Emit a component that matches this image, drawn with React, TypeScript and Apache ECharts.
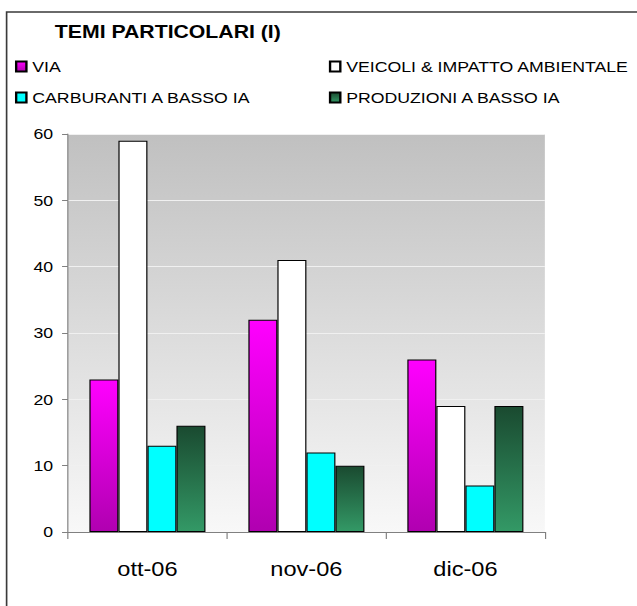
import React, { useEffect, useRef } from "react";
import * as echarts from "echarts";

const categories = ["ott-06", "nov-06", "dic-06"];
const seriesNames = [
  "VIA",
  "VEICOLI & IMPATTO AMBIENTALE",
  "CARBURANTI A BASSO IA",
  "PRODUZIONI A BASSO IA",
];
const viaValues = [23, 32, 26];
const veicoliValues = [59, 41, 19];
const carburantiValues = [13, 12, 7];
const produzioniValues = [16, 10, 19];
const yMin = 0;
const yMax = 60;
const yInterval = 10;
const titleText = "TEMI PARTICOLARI (I)";

// The reference is horizontally stretched; draw narrower then stretch.
const STRETCH = 637 / 540;
const W = 540;
const H = 606;

const FONT = "'Liberation Sans', Arial, sans-serif";

function grad(top: string, bottom: string) {
  return new echarts.graphic.LinearGradient(0, 0, 0, 1, [
    { offset: 0, color: top },
    { offset: 1, color: bottom },
  ]);
}

export default function App() {
  const ref = useRef<HTMLDivElement>(null);

  useEffect(() => {
    if (!ref.current) return;
    const chart = echarts.init(ref.current, undefined, { renderer: "svg" });

    const styles = [
      { color: grad("#ff00ff", "#b000b0"), borderColor: "#000000", borderWidth: 1 },
      { color: "#ffffff", borderColor: "#000000", borderWidth: 1 },
      { color: "#00ffff", borderColor: "#000000", borderWidth: 1 },
      { color: grad("#1a4a30", "#339966"), borderColor: "#000000", borderWidth: 1 },
    ];
    const values = [viaValues, veicoliValues, carburantiValues, produzioniValues];

    const legendPos = [
      { left: 12.7, top: 59 },
      { left: 278.8, top: 59 },
      { left: 12.7, top: 90 },
      { left: 278.8, top: 90 },
    ];

    const option: any = {
      animation: false,
      backgroundColor: "#ffffff",
      textStyle: { fontFamily: FONT },
      title: {
        text: titleText,
        left: 46.5,
        top: 23,
        padding: 0,
        textStyle: {
          fontFamily: FONT,
          fontSize: 18,
          fontWeight: "bold",
          color: "#000000",
        },
      },
      legend: seriesNames.map((name, i) => ({
        data: [name],
        left: legendPos[i].left,
        top: legendPos[i].top,
        padding: 0,
        itemWidth: 8.7,
        itemHeight: 10,
        icon: "rect",
        selectedMode: false,
        textStyle: { fontFamily: FONT, fontSize: 15, color: "#000000" },
      })),
      grid: {
        left: 57.6,
        top: 134,
        width: 404.3,
        height: 398,
        show: true,
        borderWidth: 0,
        backgroundColor: grad("#c0c0c0", "#f8f8f8"),
        containLabel: false,
      },
      xAxis: {
        type: "category",
        data: categories,
        axisLine: { show: true, lineStyle: { color: "#808080", width: 1 } },
        axisTick: { show: true, length: 7, lineStyle: { color: "#808080" } },
        axisLabel: {
          fontFamily: FONT,
          fontSize: 20,
          color: "#000000",
          margin: 27,
        },
        splitLine: { show: false },
      },
      yAxis: {
        type: "value",
        min: yMin,
        max: yMax,
        interval: yInterval,
        axisLine: { show: true, lineStyle: { color: "#808080", width: 1 } },
        axisTick: { show: true, length: 5, lineStyle: { color: "#808080" } },
        axisLabel: {
          fontFamily: FONT,
          fontSize: 15,
          color: "#000000",
          margin: 12.5,
        },
        splitLine: { show: true, lineStyle: { color: "#f0f0f0", width: 1 } },
      },
      graphic: [
        {
          type: "rect",
          z: 100,
          silent: true,
          shape: { x: 5.6, y: 12, width: 700, height: 700 },
          style: { fill: "none", stroke: "#3a3a3a", lineWidth: 1.4 },
        },
      ],
      series: seriesNames.map((name, i) => ({
        name,
        type: "bar",
        data: values[i],
        barGap: "0%",
        barCategoryGap: "27%",
        itemStyle: styles[i],
      })),
    };

    chart.setOption(option);
    return () => chart.dispose();
  }, []);

  return (
    <div
      ref={ref}
      style={{
        position: "fixed",
        left: 0,
        top: 0,
        width: W + "px",
        height: H + "px",
        transform: `scaleX(${STRETCH})`,
        transformOrigin: "0 0",
      }}
    />
  );
}
